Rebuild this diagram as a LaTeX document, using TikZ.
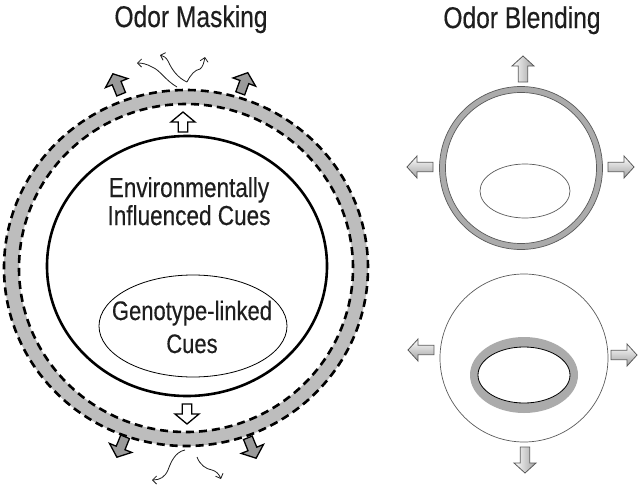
\documentclass[tikz,border=0pt]{standalone}
\usepackage{fontspec}
\setmainfont{Liberation Sans}[FakeStretch=0.82,FakeBold=0.35]
\usetikzlibrary{arrows.meta}
\definecolor{ringgray}{HTML}{BDBDBD}
\definecolor{bandgray}{HTML}{ABABAB}
\definecolor{edgegray}{HTML}{5A5A5A}
\definecolor{arrgray}{HTML}{9A9A9A}
\definecolor{txt}{HTML}{1E1E1E}
\newcommand\blockarr[6]{% x, y, angle, half length, half head width, style
  \begin{scope}[shift={(#1,#2)},rotate=#3]
    \path[#6] ({-#4},-4.7) -- ({#4-10},-4.7) -- ({#4-10},{-#5}) -- ({#4},0)
      -- ({#4-10},{#5}) -- ({#4-10},4.7) -- ({-#4},4.7) -- cycle;
  \end{scope}}
\begin{document}
\begin{tikzpicture}[x=1pt,y=1pt,
  lbl/.style={text=txt, inner sep=0pt, anchor=base},
  ttl/.style={lbl, font=\fontsize{30}{32}\selectfont},
  env/.style={lbl, font=\fontsize{27.5}{30}\selectfont},
  geno/.style={lbl, font=\fontsize{26.8}{30}\selectfont},
  dashring/.style={draw=black, line width=2.6pt, dash pattern=on 8pt off 5pt},
  wavy/.style={draw=txt, line width=0.8pt, -{Straight Barb[length=4pt,width=8pt]}},
  whitearr/.style={draw=black, fill=white, line width=1.3pt, line join=miter},
  grayarr/.style={draw=black, fill=arrgray, line width=1.3pt, line join=miter},
  harr/.style={draw=edgegray, line width=0.8pt, top color=white, bottom color=gray!75},
  varr/.style={draw=edgegray, line width=0.8pt, left color=white, right color=gray!75}]
\useasboundingbox (0,0) rectangle (641,-488);
\fill[white] (0,0) rectangle (641,-488);

% titles
\node[ttl] (t1) at (191,-27) {Odor Masking};
\node[ttl] (t2) at (522,-28) {Odor Blending};

% ---- Odor masking ----
\fill[ringgray, even odd rule] (186,-268) ellipse [x radius=182, y radius=178]
   (186,-268) ellipse [x radius=167, y radius=164];
\draw[dashring] (186,-268) ellipse [x radius=182, y radius=178];
\draw[dashring] (186,-268) ellipse [x radius=167, y radius=164];
\draw[black, line width=2.6pt] (187,-266) ellipse [x radius=140, y radius=130];
\draw[black, line width=0.8pt] (193,-326) ellipse [x radius=94, y radius=51];

\node[env] (e1) at (189,-197) {Environmentally};
\node[env] (e2) at (189,-225) {Influenced Cues};
\node[geno] (g1) at (192,-320) {Genotype-linked};
\node[geno] (g2) at (192,-353) {Cues};

\blockarr{183}{-122}{90}{10}{12}{whitearr}
\blockarr{187}{-414}{-90}{10}{12}{whitearr}
\blockarr{117}{-84}{112}{11}{12}{grayarr}
\blockarr{244}{-83}{70}{11}{12}{grayarr}
\blockarr{121}{-447}{248}{11}{12}{grayarr}
\blockarr{252}{-448}{292}{11}{12}{grayarr}

% odor wisps
\draw[wavy] (177,-87) .. controls (165,-80) and (160,-70) .. (152,-67)
   .. controls (147,-64) and (142,-63) .. (137,-63);
\draw[wavy] (187,-82) .. controls (178,-78) and (172,-70) .. (168,-61)
   .. controls (166,-57) and (163,-56) .. (160,-55);
\draw[wavy] (187,-82) .. controls (191,-74) and (195,-70) .. (200,-69)
   .. controls (203,-67) and (204,-62) .. (205,-57);
\draw[wavy] (185,-450) .. controls (175,-452) and (171,-462) .. (168,-470)
   .. controls (165,-477) and (160,-480) .. (152,-480);
\draw[wavy] (197,-457) .. controls (200,-465) and (206,-469) .. (212,-470)
   .. controls (216,-471) and (219,-474) .. (221,-479);

% ---- Odor blending, top ----
\draw[bandgray, line width=6pt] (521,-168) circle (78.5);
\draw[edgegray, line width=0.7pt] (521,-168) circle (81.5);
\draw[edgegray, line width=0.7pt] (521,-168) circle (75.5);
\draw[edgegray, line width=0.7pt] (525,-191) ellipse [x radius=45, y radius=27];
\blockarr{523}{-69}{90}{13}{11}{varr}
\blockarr{420}{-167}{180}{13}{11}{harr}
\blockarr{621}{-167}{0}{13}{11}{harr}

% ---- Odor blending, bottom ----
\draw[edgegray, line width=0.7pt] (524,-358) circle (84);
\fill[bandgray] (524,-375) ellipse [x radius=54, y radius=38];
\filldraw[fill=white, draw=black, line width=0.8pt] (524,-375) ellipse [x radius=46, y radius=28];
\blockarr{421}{-350}{180}{13}{11}{harr}
\blockarr{624}{-355}{0}{13}{11}{harr}
\blockarr{525}{-460}{-90}{13}{11}{varr}
\end{tikzpicture}
\end{document}
